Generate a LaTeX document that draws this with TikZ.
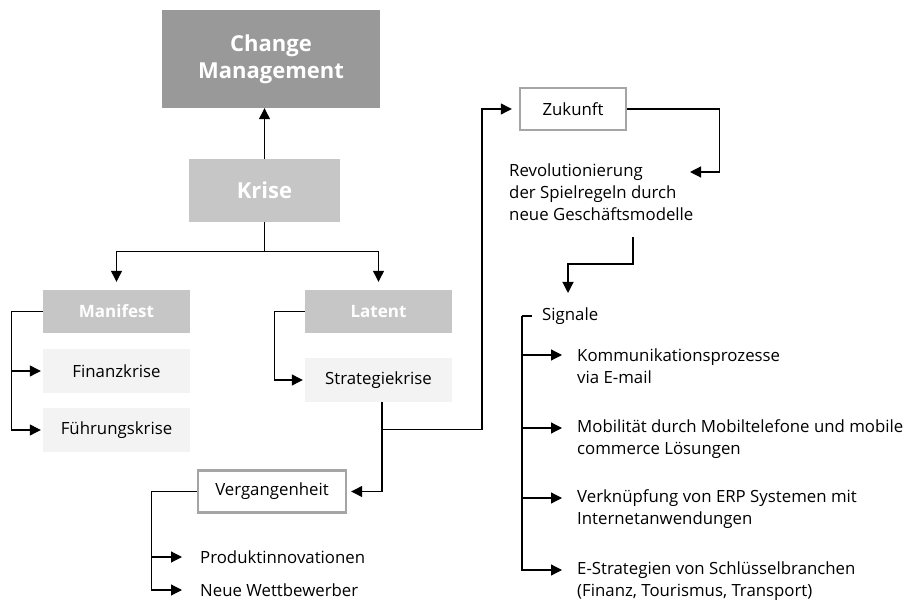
\documentclass[tikz,border=0pt]{standalone}
\usepackage{fontspec}
\setmainfont{Open Sans}
\usepackage{tikz}
\usetikzlibrary{
  arrows.meta,
  calc,
  positioning
}
\usepackage{xcolor}
\definecolor{boxdark}{RGB}{153,153,153}
\definecolor{boxmid}{RGB}{198,198,198}
\definecolor{boxlight}{RGB}{243,243,243}
\definecolor{frameclr}{RGB}{165,165,165}
\newcommand{\txtsize}{\fontsize{16.8}{22}\selectfont}
\tikzset{
  % Qutilar
  mainbox/.style  = {fill=boxdark, text=white, align=center, inner sep=0pt,
                     font=\fontsize{22}{27}\selectfont\bfseries,
                     minimum width=218pt, minimum height=98pt},
  krisebox/.style = {fill=boxmid, text=white, inner sep=0pt,
                     font=\fontsize{22}{26}\selectfont\bfseries,
                     minimum width=151pt, minimum height=63pt},
  typebox/.style  = {fill=boxmid, text=white, inner sep=0pt,
                     font=\fontsize{17}{20}\selectfont\bfseries,
                     minimum width=147pt, minimum height=43pt},
  itembox/.style  = {fill=boxlight, inner sep=0pt, font=\txtsize,
                     minimum width=147pt, minimum height=44pt},
  timebox/.style  = {draw=frameclr, line width=2.4pt, fill=white,
                     inner sep=0pt, font=\txtsize, minimum height=42pt},
  plain/.style    = {align=left, inner sep=0pt, font=\txtsize},
  % Chiziqlar
  link/.style     = {line width=1.2pt, draw=black},
  arr/.style      = {link, -{Triangle[length=11pt,width=11pt]}},
}

\begin{document}
\begin{tikzpicture}[x=1pt,y=-1pt]
  \useasboundingbox (0,0) rectangle (908,609);
  % Qutilar
  \node[mainbox] (cm) at (271,59) {Change\\Management};
  \node[krisebox] (krise) at (264.5,190.5) {Krise};
  \node[typebox] (manifest) at (116.5,311.5) {Manifest};
  \node[typebox] (latent) at (378.5,311.5) {Latent};
  \node[itembox] (finanz) at (116.5,371) {Finanzkrise};
  \node[itembox] (fuehrung) at (116.5,430) {Führungskrise};
  \node[itembox] (strategie) at (378.5,380) {Strategiekrise};
  \node[timebox, minimum width=106pt] (zukunft) at (573,109) {Zukunft};
  \node[timebox, minimum width=148pt] (verg) at (272,491.5) {Vergangenheit};
  % Matnlar
  \node[plain, anchor=west] (revol) at (509,192)
    {Revolutionierung\\der Spielregeln durch\\neue Geschäftsmodelle};
  \node[plain, anchor=west] (signale) at (542,316) {Signale};
  \node[plain, anchor=west] (k1) at (577,366) {Kommunikationsprozesse\\via E-mail};
  \node[plain, anchor=west] (k2) at (577,439) {Mobilität durch Mobiltelefone und mobile\\commerce Lösungen};
  \node[plain, anchor=west] (k3) at (577,509) {Verknüpfung von ERP Systemen mit\\Internetanwendungen};
  \node[plain, anchor=west] (k4) at (577,581) {E-Strategien von Schlüsselbranchen\\(Finanz, Tourismus, Transport)};
  \node[plain, anchor=west] (prod) at (200,557) {Produktinnovationen};
  \node[plain, anchor=west] (neue) at (200,590) {Neue Wettbewerber};
  % Yordamchi nuqtalar
  \coordinate (sdown) at ($(strategie.south)+(3.5,0)$);
  \coordinate (knot) at ($(sdown)+(0,27)$);
  \coordinate (revin) at (690,172);
  \coordinate (revout) at (633,237);
  \coordinate (sigin) at (568,293);
  % Strelkalar
  \draw[arr] (krise.north) -- (krise.north |- cm.south);
  \draw[arr, shorten >=8pt] (krise.south) -- ++(0,29.5) -| (manifest.north);
  \draw[arr, shorten >=8pt] (krise.south) -- ++(0,29.5) -| (latent.north);
  \draw[arr, shorten >=2pt] (manifest.west) -- ++(-31,0) |- (finanz.west);
  \draw[arr, shorten >=2pt] (manifest.west) -- ++(-31,0) |- (fuehrung.west);
  \draw[arr, shorten >=2pt] (latent.west) -- ++(-30,0) |- (strategie.west);
  \draw[arr, shorten >=4pt] (sdown) |- (verg.east);
  \draw[arr, shorten >=7pt] (knot) -- ++(100,0) |- (zukunft.west);
  \draw[arr] (zukunft.east) -- ++(92,0) |- (revin);
  \draw[arr] (revout) -- ++(0,27) -| (sigin);
  % Signale
  \draw[link] ([xshift=-10pt]signale.west) -- ++(-10,0) coordinate (sigbar);
  \foreach \k in {k1,k2,k3,k4}
    \draw[arr] (sigbar) |- ($(\k.west)+(-15,-11)$);
  % Vergangenheit
  \draw[arr] (verg.west) -- ++(-45,0) |- ($(prod.west)+(-18,0)$);
  \draw[arr] (verg.west) -- ++(-45,0) |- ($(neue.west)+(-18,0)$);
\end{tikzpicture}
\end{document}
